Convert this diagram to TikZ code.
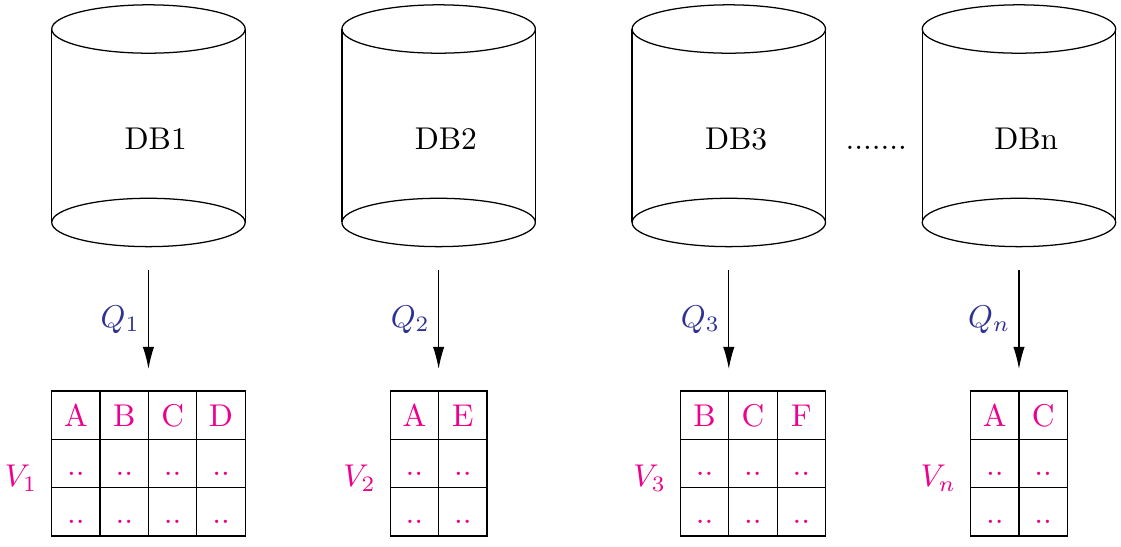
\documentclass[tikz,border=0pt]{standalone}
\usepackage{tikz}
\usetikzlibrary{arrows.meta, positioning, calc}
\definecolor{QBlue}{RGB}{46, 49, 146}
\definecolor{VPink}{RGB}{236, 0, 140}

\begin{document}
\begin{tikzpicture}[x=0.54cm, y=0.54cm,
    cell/.style={draw, minimum width=0.54cm, minimum height=0.54cm, inner sep=0pt,
                 text height=7.5pt, text depth=0pt, text=VPink},
    query/.style={text=QBlue, inner sep=2.6pt},
    view/.style={text=VPink, anchor=base east},
    arrow/.style={-{Latex[length=7pt, width=3.6pt]}}]

\useasboundingbox (-0.07,-11.31) rectangle (23.11,0);

% databases
\foreach \x/\name in {3/1, 9/2, 15/3, 21/n} {
  \draw (\x,-0.6) ellipse (2 and 0.5);
  \draw (\x,-4.6) ellipse (2 and 0.5);
  \draw (\x-2,-0.6) -- (\x-2,-4.6);
  \draw (\x+2,-0.6) -- (\x+2,-4.6);
  \node[anchor=base] (db\name) at (\x+0.15,-3.1) {DB\name};
  \coordinate (top\name) at (\x,-5.58);
  \coordinate (bot\name) at (\x,-7.63);
}
\node[anchor=base] (more) at (18.05,-3.1) {.......};

% queries
\draw[arrow] (top1) -- node[query, left] (Q1) {$Q_1$} (bot1);
\draw[arrow] (top2) -- node[query, left] (Q2) {$Q_2$} (bot2);
\draw[arrow] (top3) -- node[query, left] (Q3) {$Q_3$} (bot3);
\draw[arrow] (topn) -- node[query, left] (Qn) {$Q_n$} (botn);

% views
\foreach \h [count=\c] in {A,B,C,D} {
  \node[cell] (v1-1-\c) at (0.5+\c,-8.585) {\h};
  \node[cell] (v1-2-\c) at (0.5+\c,-9.585) {..};
  \node[cell] (v1-3-\c) at (0.5+\c,-10.585) {..};
}
\foreach \h [count=\c] in {A,E} {
  \node[cell] (v2-1-\c) at (7.5+\c,-8.585) {\h};
  \node[cell] (v2-2-\c) at (7.5+\c,-9.585) {..};
  \node[cell] (v2-3-\c) at (7.5+\c,-10.585) {..};
}
\foreach \h [count=\c] in {B,C,F} {
  \node[cell] (v3-1-\c) at (13.5+\c,-8.585) {\h};
  \node[cell] (v3-2-\c) at (13.5+\c,-9.585) {..};
  \node[cell] (v3-3-\c) at (13.5+\c,-10.585) {..};
}
\foreach \h [count=\c] in {A,C} {
  \node[cell] (vn-1-\c) at (19.5+\c,-8.585) {\h};
  \node[cell] (vn-2-\c) at (19.5+\c,-9.585) {..};
  \node[cell] (vn-3-\c) at (19.5+\c,-10.585) {..};
}
\node[view] (V1) at (0.93,-10.06) {$V_1$};
\node[view] (V2) at (7.93,-10.06) {$V_2$};
\node[view] (V3) at (13.93,-10.06) {$V_3$};
\node[view] (Vn) at (19.93,-10.06) {$V_n$};
\end{tikzpicture}
\end{document}
